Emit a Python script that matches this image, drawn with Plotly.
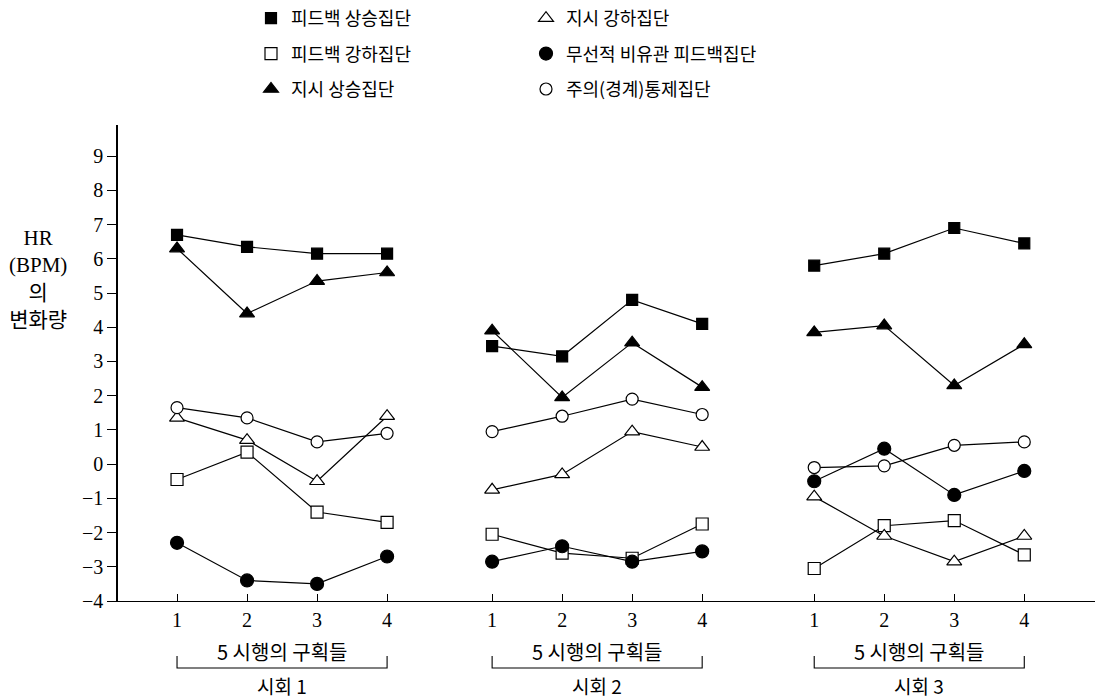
import plotly.graph_objects as go

# Blocks of five trials within each session
blocks = [1, 2, 3, 4]
sessions = ["시회 1", "시회 2", "시회 3"]
block_caption = "5 시행의 구획들"

# Mean heart-rate change (BPM) per group, session by session
fb_up = [[6.7, 6.35, 6.15, 6.15], [3.45, 3.15, 4.8, 4.1], [5.8, 6.15, 6.9, 6.45]]
fb_down = [[-0.45, 0.35, -1.4, -1.7], [-2.05, -2.6, -2.75, -1.75], [-3.05, -1.8, -1.65, -2.65]]
instr_up = [[6.3, 4.4, 5.35, 5.6], [3.9, 1.95, 3.55, 2.25], [3.85, 4.05, 2.3, 3.5]]
instr_down = [[1.35, 0.7, -0.5, 1.4], [-0.75, -0.3, 0.95, 0.5], [-0.95, -2.1, -2.85, -2.1]]
random_fb = [[-2.3, -3.4, -3.5, -2.7], [-2.85, -2.4, -2.85, -2.55], [-0.5, 0.45, -0.9, -0.2]]
attention = [[1.65, 1.35, 0.65, 0.9], [0.95, 1.4, 1.9, 1.45], [-0.1, -0.05, 0.55, 0.65]]

groups = [
    ("피드백 상승집단", fb_up, "square", "black", 11, "legend"),
    ("피드백 강하집단", fb_down, "square", "white", 12, "legend"),
    ("지시 상승집단", instr_up, "triangle-up", "black", 13, "legend"),
    ("지시 강하집단", instr_down, "triangle-up", "white", 13, "legend2"),
    ("무선적 비유관 피드백집단", random_fb, "circle", "black", 13, "legend2"),
    ("주의(경계)통제집단", attention, "circle", "white", 12, "legend2"),
]

# Horizontal offset of each session's block of four positions
session_offset = [0, 4.5, 9.1]


def series_xy(values):
    xs, ys = [], []
    for off, sess in zip(session_offset, values):
        xs += [b + off for b in blocks] + [None]
        ys += list(sess) + [None]
    return xs[:-1], ys[:-1]


fig = go.Figure()

# connecting lines first so the markers sit on top
for name, vals, sym, fill, size, leg in groups:
    xs, ys = series_xy(vals)
    fig.add_trace(go.Scatter(
        x=xs, y=ys, mode="lines", showlegend=False, hoverinfo="skip",
        line=dict(color="black", width=1.2), connectgaps=False,
    ))

for name, vals, sym, fill, size, leg in groups:
    xs, ys = series_xy(vals)
    fig.add_trace(go.Scatter(
        x=xs, y=ys, mode="markers", name=name, legend=leg, legendgroup=name,
        marker=dict(symbol=sym, size=size, color=fill,
                    line=dict(color="black", width=1.2)),
    ))

tick_x = [b + off for off in session_offset for b in blocks]
tick_t = [str(b) for _ in session_offset for b in blocks]

serif = "Liberation Serif, Noto Sans CJK KR, serif"
kfont = "Noto Sans CJK KR, sans-serif"

legend_style = dict(
    xanchor="left", yanchor="top",
    font=dict(family=kfont, size=18, color="black"),
    bgcolor="rgba(0,0,0,0)", traceorder="grouped", tracegroupgap=9,
    itemsizing="trace",
)

fig.update_layout(
    width=1102, height=700,
    margin=dict(l=0, r=0, t=0, b=0, autoexpand=False),
    paper_bgcolor="white", plot_bgcolor="white",
    xaxis=dict(
        domain=[118 / 1102, 1095 / 1102], range=[0.157, 14.11], automargin=False,
        showgrid=False, zeroline=False, showline=True, linecolor="black", linewidth=1.3,
        tickmode="array", tickvals=tick_x, ticktext=tick_t,
        ticks="inside", ticklen=7, tickcolor="black", tickwidth=1.2,
        ticklabelstandoff=1,
        tickfont=dict(family=serif, size=20, color="black"),
    ),
    yaxis=dict(
        domain=[99 / 700, 575 / 700], range=[-4, 9.91], automargin=False,
        showgrid=False, zeroline=False, showline=True, linecolor="black", linewidth=1.5,
        tickmode="array", tickvals=list(range(-4, 10)),
        ticks="outside", ticklen=9, tickcolor="black", tickwidth=1.2,
        tickfont=dict(family=serif, size=20, color="black"),
    ),
    legend=dict(x=251 / 1102, y=1.0, **legend_style),
    legend2=dict(x=526 / 1102, y=1.0, **legend_style),
    showlegend=True,
)

# y-axis title block
fig.add_annotation(
    text="HR<br>(BPM)<br>의<br>변화량", x=38 / 1102, y=(700 - 279) / 700,
    xref="paper", yref="paper", xanchor="center", yanchor="middle",
    showarrow=False, align="center",
    font=dict(family=serif, size=21, color="black"),
)

# session captions with brackets under each block group
for off, sess in zip(session_offset, sessions):
    x0, x1 = blocks[0] + off, blocks[-1] + off
    xm = (x0 + x1) / 2
    fig.add_annotation(text=block_caption, x=xm, y=(700 - 651) / 700, xref="x", yref="paper",
                       xanchor="center", yanchor="middle", showarrow=False,
                       font=dict(family=kfont, size=20, color="black"))
    fig.add_annotation(text=sess, x=xm, y=(700 - 685) / 700, xref="x", yref="paper",
                       xanchor="center", yanchor="middle", showarrow=False,
                       font=dict(family=kfont, size=19, color="black"))
    yb, yt = (700 - 668) / 700, (700 - 656) / 700
    fig.add_shape(type="path", xref="x", yref="paper",
                  path=f"M {x0},{yt} L {x0},{yb} L {x1},{yb} L {x1},{yt}",
                  line=dict(color="black", width=1.1))

fig.write_html("out.html")
